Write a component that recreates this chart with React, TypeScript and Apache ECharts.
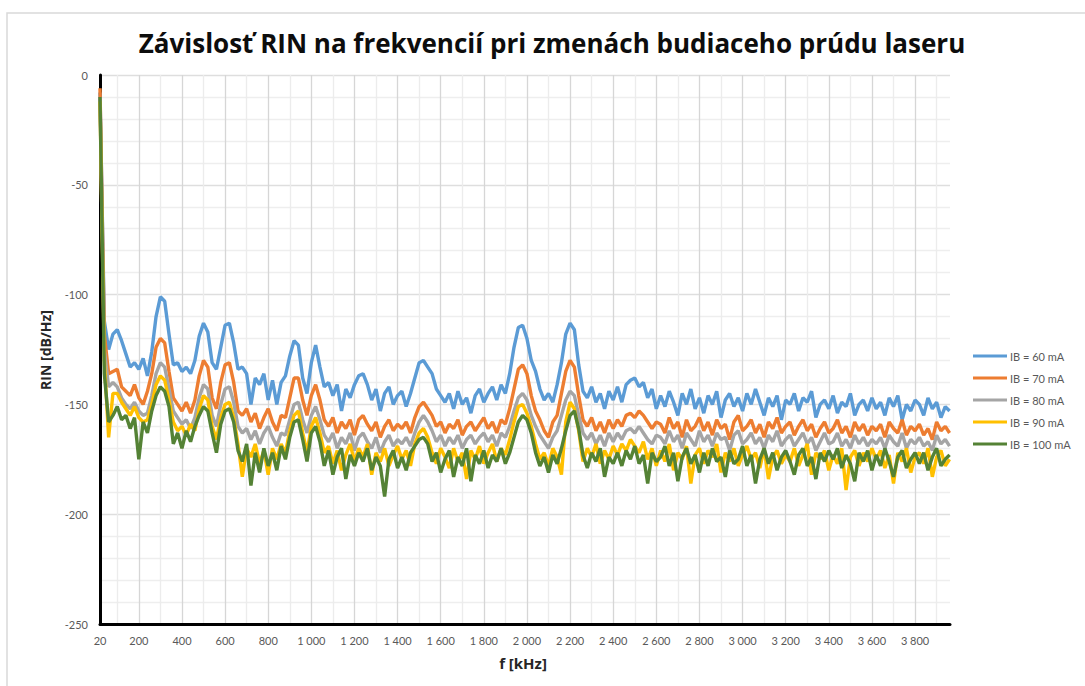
import React, { useEffect, useRef } from "react";
import * as echarts from "echarts";

const freqKHz = [
  20, 40, 60, 80, 100, 120, 140, 160, 180, 200,
  220, 240, 260, 280, 300, 320, 340, 360, 380, 400,
  420, 440, 460, 480, 500, 520, 540, 560, 580, 600,
  620, 640, 660, 680, 700, 720, 740, 760, 780, 800,
  820, 840, 860, 880, 900, 920, 940, 960, 980, 1000,
  1020, 1040, 1060, 1080, 1100, 1120, 1140, 1160, 1180, 1200,
  1220, 1240, 1260, 1280, 1300, 1320, 1340, 1360, 1380, 1400,
  1420, 1440, 1460, 1480, 1500, 1520, 1540, 1560, 1580, 1600,
  1620, 1640, 1660, 1680, 1700, 1720, 1740, 1760, 1780, 1800,
  1820, 1840, 1860, 1880, 1900, 1920, 1940, 1960, 1980, 2000,
  2020, 2040, 2060, 2080, 2100, 2120, 2140, 2160, 2180, 2200,
  2220, 2240, 2260, 2280, 2300, 2320, 2340, 2360, 2380, 2400,
  2420, 2440, 2460, 2480, 2500, 2520, 2540, 2560, 2580, 2600,
  2620, 2640, 2660, 2680, 2700, 2720, 2740, 2760, 2780, 2800,
  2820, 2840, 2860, 2880, 2900, 2920, 2940, 2960, 2980, 3000,
  3020, 3040, 3060, 3080, 3100, 3120, 3140, 3160, 3180, 3200,
  3220, 3240, 3260, 3280, 3300, 3320, 3340, 3360, 3380, 3400,
  3420, 3440, 3460, 3480, 3500, 3520, 3540, 3560, 3580, 3600,
  3620, 3640, 3660, 3680, 3700, 3720, 3740, 3760, 3780, 3800,
  3820, 3840, 3860, 3880, 3900, 3920, 3940, 3960,
];

const ib60 = [
  -8, -112, -125, -118, -116, -121, -127, -133, -131, -134,
  -129, -137, -126, -110, -101, -103, -118, -132, -131, -135,
  -133, -136, -130, -119, -113, -117, -131, -134, -124, -114,
  -113, -122, -134, -133, -136, -150, -138, -141, -136, -148,
  -139, -150, -140, -137, -128, -121, -123, -138, -145, -131,
  -123, -133, -142, -140, -146, -141, -153, -143, -147, -141,
  -137, -136, -141, -148, -143, -153, -145, -142, -150, -146,
  -144, -151, -145, -138, -131, -130, -133, -136, -143, -146,
  -149, -145, -152, -144, -150, -147, -154, -146, -143, -149,
  -145, -142, -148, -141, -145, -136, -124, -115, -114, -120,
  -130, -135, -143, -148, -145, -149, -141, -131, -118, -113,
  -116, -132, -144, -147, -142, -149, -145, -152, -144, -148,
  -142, -149, -141, -139, -138, -142, -140, -147, -143, -152,
  -146, -151, -144, -149, -155, -145, -150, -143, -152, -147,
  -154, -146, -150, -144, -156, -148, -145, -151, -147, -153,
  -145, -150, -143, -149, -155, -147, -151, -146, -157, -148,
  -150, -145, -153, -147, -149, -144, -156, -150, -148, -152,
  -146, -154, -149, -151, -145, -155, -150, -148, -153, -147,
  -152, -149, -155, -147, -151, -146, -157, -150, -153, -148,
  -150, -155, -147, -152, -149, -156, -151, -153,
];

const ib70 = [
  -6, -118, -136, -135, -134, -142, -144, -146, -141, -147,
  -150, -144, -136, -124, -120, -122, -135, -147, -150, -153,
  -149, -154, -148, -137, -130, -133, -147, -152, -140, -132,
  -131, -140, -153, -155, -152, -158, -154, -161, -156, -152,
  -158, -162, -155, -156, -147, -138, -138, -148, -155, -146,
  -141, -148, -157, -160, -156, -163, -158, -161, -157, -164,
  -157, -155, -159, -162, -158, -165, -160, -157, -162, -159,
  -161, -158, -163, -156, -151, -149, -152, -155, -160, -158,
  -163, -159, -161, -157, -164, -160, -158, -162, -159, -156,
  -161, -158, -163, -157, -159, -152, -143, -134, -132, -136,
  -146, -153, -157, -162, -165, -158, -155, -145, -135, -130,
  -133, -146, -157, -160, -156, -162, -158, -163, -157, -161,
  -157, -160, -155, -154, -156, -153, -155, -158, -161, -158,
  -159, -163, -156, -161, -158, -165, -157, -162, -160, -156,
  -162, -158, -164, -157, -161, -159, -166, -158, -155, -162,
  -160, -157, -163, -159, -165, -158, -161, -156, -163, -160,
  -158, -164, -160, -157, -162, -159, -165, -161, -158, -163,
  -161, -157, -163, -160, -165, -158, -162, -159, -164, -160,
  -162, -159, -165, -158, -161, -163, -157, -164, -160, -162,
  -159, -164, -161, -166, -158, -162, -160, -163,
];

const ib80 = [
  -10, -125, -142, -140, -142, -147, -150, -152, -149, -153,
  -155, -154, -146, -136, -131, -133, -143, -153, -156, -159,
  -157, -161, -156, -147, -141, -143, -155, -160, -150, -143,
  -142, -149, -160, -163, -161, -166, -162, -168, -163, -160,
  -165, -169, -163, -164, -157, -150, -149, -157, -163, -155,
  -151, -157, -164, -167, -163, -170, -165, -168, -163, -171,
  -165, -163, -167, -170, -165, -172, -167, -164, -169, -166,
  -168, -165, -169, -163, -158, -155, -158, -162, -167, -164,
  -169, -165, -168, -164, -170, -166, -164, -168, -165, -163,
  -167, -164, -169, -163, -165, -160, -153, -147, -145, -148,
  -155, -160, -164, -167, -170, -165, -162, -155, -148, -144,
  -146, -155, -163, -166, -163, -168, -164, -169, -163, -167,
  -163, -166, -162, -161, -163, -160, -163, -166, -168, -164,
  -165, -168, -162, -167, -164, -170, -163, -166, -169, -162,
  -167, -164, -169, -163, -166, -165, -171, -164, -162, -168,
  -166, -163, -168, -165, -170, -164, -167, -162, -169, -166,
  -164, -169, -166, -163, -168, -165, -171, -167, -163, -168,
  -167, -163, -169, -166, -170, -164, -168, -165, -169, -166,
  -168, -165, -170, -164, -167, -169, -163, -170, -166, -168,
  -165, -169, -167, -171, -164, -168, -166, -169,
];

const ib90 = [
  -12, -130, -165, -145, -145, -149, -152, -155, -151, -156,
  -158, -157, -150, -141, -137, -139, -148, -158, -162, -160,
  -164, -159, -162, -152, -146, -148, -160, -166, -156, -150,
  -149, -156, -168, -183, -170, -174, -168, -177, -171, -182,
  -170, -175, -168, -172, -162, -155, -153, -163, -172, -160,
  -156, -163, -172, -169, -177, -171, -180, -173, -168, -176,
  -170, -174, -168, -182, -172, -176, -170, -178, -173, -169,
  -175, -171, -178, -168, -163, -161, -165, -172, -177, -170,
  -174, -179, -170, -176, -172, -184, -171, -175, -169, -177,
  -172, -168, -176, -170, -173, -166, -158, -151, -150, -154,
  -160, -168, -175, -172, -178, -170, -174, -182, -158, -149,
  -152, -162, -176, -170, -174, -168, -177, -171, -175, -169,
  -173, -168, -171, -166, -169, -172, -167, -175, -170, -178,
  -171, -176, -168, -180, -172, -175, -169, -186, -173, -170,
  -177, -171, -174, -168, -181, -172, -176, -170, -178, -173,
  -169, -175, -172, -179, -170, -184, -174, -171, -177, -173,
  -176, -170, -178, -173, -168, -182, -172, -175, -171, -180,
  -173, -177, -170, -189, -174, -171, -178, -172, -176, -170,
  -175, -171, -179, -173, -186, -172, -176, -170, -181, -174,
  -172, -177, -170, -183, -174, -171, -178, -175,
];

const ib100 = [
  -10, -136, -158, -155, -151, -157, -155, -161, -156, -175,
  -158, -163, -153, -146, -142, -144, -151, -168, -163, -170,
  -162, -167, -160, -155, -151, -153, -163, -172, -159, -153,
  -152, -158, -171, -176, -168, -187, -172, -181, -170, -178,
  -172, -180, -169, -175, -165, -158, -157, -166, -176, -163,
  -160, -167, -178, -171, -182, -174, -170, -184, -173, -178,
  -172, -176, -170, -180, -174, -178, -192, -175, -171, -179,
  -174, -180, -172, -169, -166, -165, -168, -176, -172, -181,
  -175, -171, -183, -174, -178, -170, -185, -173, -177, -171,
  -179, -173, -176, -170, -177, -172, -165, -158, -155, -157,
  -163, -172, -178, -174, -181, -173, -177, -170, -162, -155,
  -153, -161, -173, -179, -172, -176, -170, -183, -174, -177,
  -172, -178, -171, -175, -169, -177, -173, -186, -172, -176,
  -174, -169, -178, -172, -185, -174, -170, -177, -173, -181,
  -172, -178, -170, -176, -174, -183, -171, -177, -175, -169,
  -178, -173, -186, -175, -170, -177, -172, -180, -174, -171,
  -176, -182, -173, -170, -178, -174, -184, -172, -176, -171,
  -175, -170, -179, -173, -177, -185, -172, -176, -171, -180,
  -173, -178, -170, -176, -183, -174, -171, -179, -175, -172,
  -177, -172, -180, -174, -170, -178, -175, -173,
];

const seriesNames = ["IB = 60 mA", "IB = 70 mA", "IB = 80 mA", "IB = 90 mA", "IB = 100 mA"];
const seriesColors = ["#5b9bd5", "#ed7d31", "#a5a5a5", "#ffc000", "#548235"];
const seriesValues = [ib60, ib70, ib80, ib90, ib100];

const xLabelValues = [
  20, 200, 400, 600, 800, 1000, 1200, 1400, 1600, 1800, 2000,
  2200, 2400, 2600, 2800, 3000, 3200, 3400, 3600, 3800,
];
const xGridValues = [
  100, 200, 300, 400, 500, 600, 700, 800, 900, 1000, 1100, 1200, 1300, 1400, 1500,
  1600, 1700, 1800, 1900, 2000, 2100, 2200, 2300, 2400, 2500, 2600, 2700, 2800,
  2900, 3000, 3100, 3200, 3300, 3400, 3500, 3600, 3700, 3800, 3900,
];

const titleText = "Závislosť RIN na frekvencií pri zmenách budiaceho prúdu laseru";
const xName = "f [kHz]";
const yName = "RIN [dB/Hz]";

function fmtThousands(v: number): string {
  if (v >= 1000) {
    const th = Math.floor(v / 1000);
    const rest = String(v % 1000).padStart(3, "0");
    return th + " " + rest;
  }
  return String(v);
}

export default function App() {
  const ref = useRef<HTMLDivElement>(null);
  useEffect(() => {
    document.body.style.margin = "0";
    if (!ref.current) return;
    const chart = echarts.init(ref.current, undefined, { renderer: "svg" });
    const font = "Lato, 'Noto Sans', sans-serif";
    const titleFont = "'Open Sans', Lato, sans-serif";
    chart.setOption({
      animation: false,
      backgroundColor: "#ffffff",
      textStyle: { fontFamily: font },
      grid: { left: 100, right: 135, top: 75, bottom: 62, containLabel: false },
      legend: {
        orient: "vertical",
        left: 973,
        top: 349,
        padding: 0,
        icon: "rect",
        itemWidth: 34,
        itemHeight: 3,
        itemGap: 8,
        textStyle: { color: "#595959", fontSize: 11, lineHeight: 14, fontFamily: font, padding: [0, 0, 0, -2] },
        data: seriesNames,
      },
      graphic: [
        {
          type: "rect",
          shape: { x: 7, y: 13, width: 1100, height: 700 },
          style: { fill: "none", stroke: "#d9d9d9", lineWidth: 1.5 },
          silent: true,
          z: -10,
        },
        {
          type: "text",
          x: 552,
          y: 43,
          style: {
            text: titleText,
            fill: "#0d0d0d",
            font: "bold 26px " + titleFont,
            textAlign: "center",
            textVerticalAlign: "middle",
          },
        },
        {
          type: "text",
          x: 523,
          y: 663,
          style: {
            text: xName,
            fill: "#262626",
            font: "bold 15px " + titleFont,
            textAlign: "center",
            textVerticalAlign: "middle",
          },
        },
        {
          type: "text",
          x: 45,
          y: 350,
          rotation: Math.PI / 2,
          style: {
            text: yName,
            fill: "#262626",
            font: "bold 14px " + titleFont,
            textAlign: "center",
            textVerticalAlign: "middle",
          },
        },
      ],
      xAxis: {
        type: "value",
        min: 20,
        max: 3962,
        axisLine: { show: true, onZero: false, lineStyle: { color: "#000000", width: 3 } },
        axisTick: { show: false, customValues: xGridValues },
        axisLabel: {
          customValues: xLabelValues,
          color: "#595959",
          fontSize: 11,
          margin: 11,
          formatter: (v: number) => fmtThousands(v),
        },
        splitLine: {
          show: true,
          lineStyle: { color: ["#ececec", "#d6d6d6"], width: 1.3 },
        },
      },
      yAxis: {
        type: "value",
        min: -250,
        max: 0,
        interval: 50,
        axisLine: { show: true, onZero: false, lineStyle: { color: "#000000", width: 3 } },
        axisTick: { show: false },
        axisLabel: { color: "#595959", fontSize: 11, margin: 12 },
        splitLine: { show: true, lineStyle: { color: "#dedede", width: 1.3 } },
        minorTick: { show: false, splitNumber: 5 },
        minorSplitLine: { show: true, lineStyle: { color: "#eeeeee", width: 1.3 } },
      },
      series: seriesValues.map((vals, k) => ({
        name: seriesNames[k],
        type: "line",
        symbol: "none",
        showSymbol: false,
        color: seriesColors[k],
        lineStyle: { width: 3.4, color: seriesColors[k] },
        data: freqKHz.map((f, i) => [f, vals[i]]),
        z: 2 + k,
      })),
    });
    return () => chart.dispose();
  }, []);
  return (
    <div
      ref={ref}
      style={{ position: "fixed", left: 0, top: 0, width: 1085, height: 686 }}
    />
  );
}
